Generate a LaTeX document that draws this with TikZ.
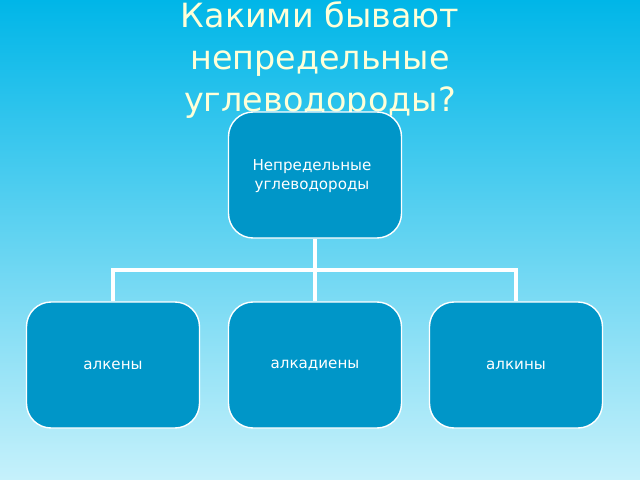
\documentclass[tikz,border=0pt]{standalone}
\usepackage{fontspec}
\setmainfont{DejaVu Sans}
\begin{document}
\begin{tikzpicture}[x=0.02cm,y=-0.02cm,
  box/.style={draw=white,line width=0.8pt,fill=boxblue,rounded corners=14pt,minimum width=173*0.02cm,minimum height=126*0.02cm,text=white,font=\fontsize{8.6pt}{10.5pt}\selectfont,align=center},
  link/.style={draw=white,line width=2pt}]
\definecolor{topc}{HTML}{00B6E8}
\definecolor{botc}{HTML}{C6F1FB}
\definecolor{boxblue}{HTML}{0096C8}
\definecolor{titlec}{HTML}{FFFFD8}
\shade[top color=topc,bottom color=botc] (0,0) rectangle (640,480);
\useasboundingbox (0,0) rectangle (640,480);
\node[text=titlec,font=\fontsize{19pt}{24pt}\selectfont,align=center] (title) at (320,60) {Какими бывают\\непредельные\\углеводороды?};
\node[box,text depth=0pt] (top) at (315,175) {};
\node[text=white,font=\fontsize{8.6pt}{10.5pt}\selectfont,align=center] (toptext) at (312,176) {Непредельные\\ углеводороды};
\node[box] (a) at (113,365) {алкены};
\node[box] (b) at (315,365) {алкадиены};
\node[box] (c) at (516,365) {алкины};
\coordinate (j) at (315,270);
\draw[link] (top.south) -- (j);
\draw[link] (j) -| (a.north);
\draw[link] (j) -| (c.north);
\draw[link] (j) -- (b.north);
\end{tikzpicture}
\end{document}
